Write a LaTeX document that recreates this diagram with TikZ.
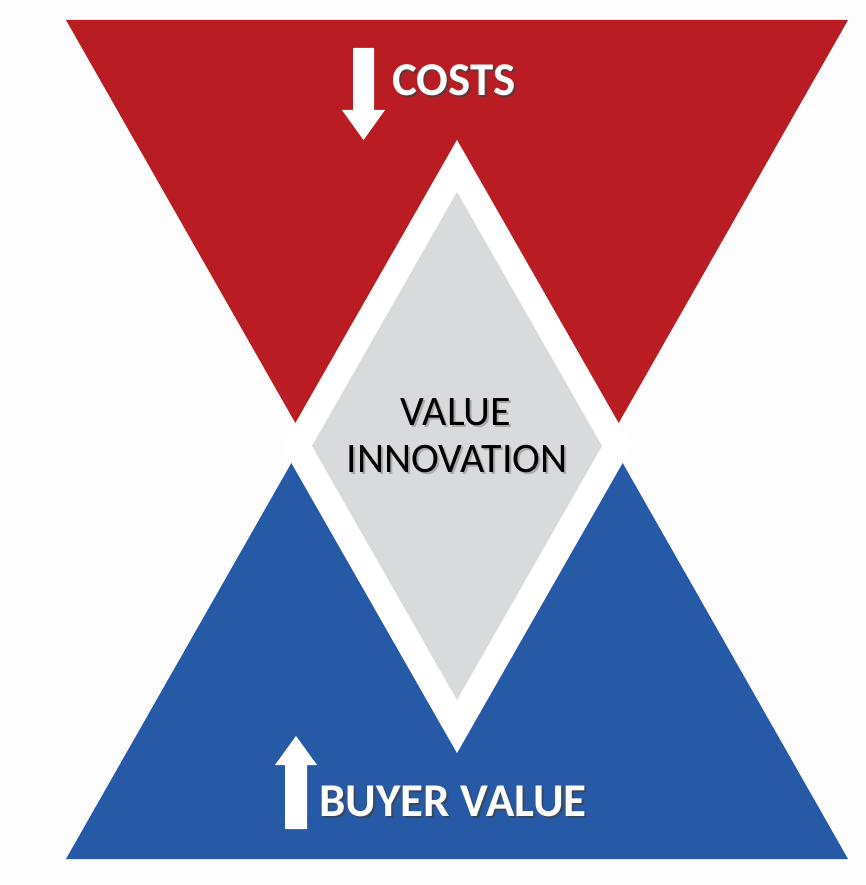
\documentclass[tikz,border=0pt]{standalone}
\usepackage{fontspec}
\setmainfont{Carlito}
\definecolor{costred}{RGB}{185,29,35}
\definecolor{valblue}{RGB}{38,90,166}
\definecolor{innogray}{RGB}{217,218,219}
\definecolor{bgwhite}{RGB}{253,253,253}
\begin{document}
\begin{tikzpicture}[x=1pt,y=-1pt,
  boldlabel/.style={font=\fontsize{47}{50}\selectfont\bfseries, text=white, inner sep=0pt, anchor=base west},
  boldshadow/.style={font=\fontsize{47}{50}\selectfont\bfseries, text=black!75, inner sep=0pt, anchor=base west, opacity=0.7},
  innolabel/.style={font=\fontsize{42}{46}\selectfont, text=black, inner sep=0pt, anchor=base},
  innoshadow/.style={font=\fontsize{42}{46}\selectfont, text=black!45, inner sep=0pt, anchor=base, opacity=0.6},
  arrowshape/.style={fill=white}]
\useasboundingbox (0,0) rectangle (866,885);
\fill[bgwhite] (0,0) rectangle (866,885);
% triangles
\fill[costred] (66,20) -- (848,20) -- (457,707) -- cycle;
\fill[valblue] (66,859) -- (848,859) -- (457,172) -- cycle;
% white border diamond and grey diamond
\fill[white] (457,140) -- (632,446.5) -- (457,753) -- (282,446.5) -- cycle;
\fill[innogray] (457,192) -- (602,446) -- (457,700) -- (312,446) -- cycle;
% arrows
\fill[arrowshape] (353,48) -- (374,48) -- (374,110) -- (385,110) -- (363.5,140) -- (342,110) -- (353,110) -- cycle;
\fill[arrowshape] (296,736) -- (317,765) -- (307,765) -- (307,829) -- (285,829) -- (285,765) -- (275,765) -- cycle;
% texts
\node[boldshadow] (costsS) at (394,98) {COSTS};
\node[boldlabel] (costs) at (392,96) {COSTS};
\node[boldshadow] (buyerS) at (321,818) {BUYER VALUE};
\node[boldlabel] (buyer) at (319,816) {BUYER VALUE};
\node[innoshadow] (valueS) at (458,427) {VALUE};
\node[innolabel] (value) at (456,425) {VALUE};
\node[innoshadow] (innoS) at (459,474) {INNOVATION};
\node[innolabel] (inno) at (457,472) {INNOVATION};
\end{tikzpicture}
\end{document}
